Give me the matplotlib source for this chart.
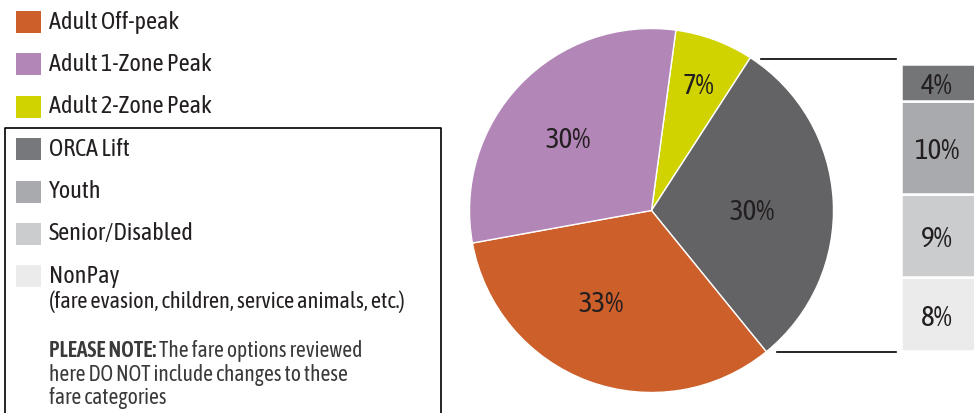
import matplotlib.pyplot as plt
from matplotlib.patches import Rectangle

# Pie: fare category shares (clockwise from top)
pie_labels = ["Adult 2-Zone Peak", "ORCA Lift + Reduced", "Adult Off-peak", "Adult 1-Zone Peak"]
pie_values = [7, 30, 33, 30]
pie_colors = ["#D0D300", "#636365", "#CC5F2A", "#B286B7"]

# Breakdown bar (top to bottom)
bar_labels = ["ORCA Lift", "Youth", "Senior/Disabled", "NonPay"]
bar_values = [4, 10, 9, 8]
bar_colors = ["#747577", "#A9AAAD", "#CBCCCE", "#EBEBEB"]

legend_labels = ["Adult Off-peak", "Adult 1-Zone Peak", "Adult 2-Zone Peak",
                 "ORCA Lift", "Youth", "Senior/Disabled", "NonPay"]
legend_colors = ["#CC5F2A", "#B286B7", "#D0D300",
                 "#77787B", "#A9AAAD", "#CBCCCE", "#EBEBEB"]

plt.rcParams["font.family"] = ["Asap Condensed", "DejaVu Sans"]
TXT = "#231F20"
NOTE = "#3A3A3A"

W, H = 974, 413
fig = plt.figure(figsize=(W / 100, H / 100), dpi=100)
ax = fig.add_axes([0, 0, 1, 1])
ax.set_xlim(0, W)
ax.set_ylim(H, 0)
ax.axis("off")
ax.set_zorder(5)

# legend rows
for i, (lab, col) in enumerate(zip(legend_labels, legend_colors)):
    yc = 22 + i * 42.4
    ax.add_patch(Rectangle((16, yc - 11), 25, 22, color=col, lw=0))
    ax.text(49, yc, lab, fontsize=17.5, color=TXT, va="center", ha="left")

ax.text(49, 302, "(fare evasion, children, service animals, etc.)",
        fontsize=16, color=TXT, va="center")
t = ax.text(49, 351, "PLEASE NOTE:", fontsize=15.5, color=NOTE, va="center",
            fontweight="semibold")
ax.annotate(" The fare options reviewed", xycoords=t, xy=(1, 0.5), va="center",
            fontsize=15.5, color=NOTE)
ax.text(49, 375, "here DO NOT include changes to these",
        fontsize=15.5, color=NOTE, va="center")
ax.text(49, 398, "fare categories", fontsize=15.5, color=NOTE, va="center")

# box around lower legend items
ax.plot([4.5, 4.5, 440.5, 440.5], [420, 128, 128, 420], color="black", lw=1.2)

# connector lines
ax.plot([761, 896], [59, 59], color="black", lw=1.2)
ax.plot([777, 896], [352, 352], color="black", lw=1.2)

# pie
pax = fig.add_axes([(651.5 - 182) / W, 1 - (210.5 + 182) / H, 364 / W, 364 / H])
wedges, texts = pax.pie(pie_values, colors=pie_colors, startangle=82.3,
                        counterclock=False,
                        wedgeprops=dict(edgecolor="white", linewidth=1))
pax.set_xlim(-1, 1)
pax.set_ylim(-1, 1)
label_pos = [(698, 87), (752, 213), (601, 305), (568, 140)]
for v, (x, y) in zip(pie_values, label_pos):
    ax.text(x, y, f"{v}%", fontsize=21, color=TXT, ha="center", va="center")

# stacked bar
bax = fig.add_axes([901 / W, 1 - 351 / H, 80 / W, 287 / H])
bottom = 0
for v, col in zip(bar_values[::-1], bar_colors[::-1]):
    bax.bar(0, v, bottom=bottom, width=1, color=col, edgecolor="white", lw=1.8)
    bax.text(-0.05, bottom + v / 2 - 0.45, f"{v}%", fontsize=21, color=TXT,
             ha="center", va="center")
    bottom += v
bax.set_xlim(-0.5, 0.5)
bax.set_ylim(0, sum(bar_values))
bax.axis("off")

fig.savefig("out.png", dpi=100)
